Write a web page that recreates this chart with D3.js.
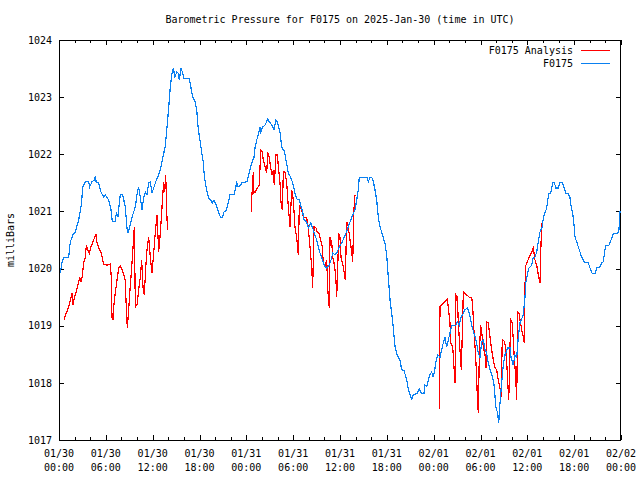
<!DOCTYPE html>
<html>
<head>
<meta charset="utf-8">
<script src="https://cdn.jsdelivr.net/npm/d3@7"></script>
<style>
  html, body { margin: 0; padding: 0; background: #fff; }
  svg { display: block; }
  text { font-family: "DejaVu Sans Mono", "Liberation Mono", monospace; font-size: 10px; fill: #000; }
</style>
</head>
<body>
<svg id="chart" width="640" height="480"></svg>
<script>
// ---------------- DATA ----------------
const chartTitle = "Barometric Pressure for F0175 on 2025-Jan-30 (time in UTC)";
const yAxisLabel = "milliBars";
const seriesNames = ["F0175 Analysis", "F0175"];
const startTimeUTC = Date.UTC(2025, 0, 30, 0, 0);   // 2025-01-30 00:00 UTC
const spanHours = 72;
const yTicks = [1017, 1018, 1019, 1020, 1021, 1022, 1023, 1024];
const majorTickHours = [0, 6, 12, 18, 24, 30, 36, 42, 48, 54, 60, 66, 72];
const minorTickHours = [2, 4, 8, 10, 14, 16, 20, 22, 26, 28, 32, 34, 38, 40, 44, 46, 50, 52, 56, 58, 62, 64, 68, 70];

// F0175 station observations: [hours since 01/30 00:00, mb]
const stationSeries = [
[0.17,1019.92],[0.38,1020.10],[0.60,1020.20],[1.24,1020.20],[1.45,1020.47],[1.79,1020.59],[2.09,1020.64],[2.52,1020.85],
[2.82,1021.08],[3.07,1021.43],[3.37,1021.52],[3.80,1021.52],[3.93,1021.43],[4.23,1021.52],[4.52,1021.55],[4.65,1021.62],
[4.78,1021.50],[5.09,1021.50],[5.38,1021.34],[5.73,1021.25],[5.93,1021.29],[6.15,1021.24],[6.37,1021.20],[6.66,1021.03],
[6.83,1020.82],[7.21,1020.82],[7.34,1020.97],[7.56,1020.90],[7.73,1021.15],[7.85,1021.29],[8.16,1021.29],[8.49,1021.08],
[8.71,1020.71],[8.84,1020.62],[9.06,1020.73],[9.35,1020.90],[9.78,1021.08],[10.08,1021.38],[10.21,1021.41],[10.42,1021.25],
[10.63,1021.03],[10.85,1021.24],[11.06,1021.34],[11.27,1021.29],[11.49,1021.50],[11.70,1021.52],[11.91,1021.32],[12.13,1021.41],
[12.47,1021.55],[12.77,1021.64],[13.07,1021.78],[13.32,1021.95],[13.62,1022.15],[13.84,1022.48],[14.05,1022.81],[14.26,1023.18],
[14.44,1023.39],[14.64,1023.51],[14.86,1023.35],[15.08,1023.44],[15.28,1023.42],[15.41,1023.30],[15.63,1023.51],[15.85,1023.42],
[16.01,1023.32],[16.69,1023.32],[16.91,1023.16],[17.13,1023.00],[17.42,1022.92],[17.64,1022.78],[17.85,1022.43],[18.06,1022.25],
[18.28,1022.04],[18.49,1021.85],[18.61,1021.64],[18.79,1021.46],[19.00,1021.32],[19.22,1021.22],[19.43,1021.20],[19.64,1021.15],
[19.86,1021.20],[20.08,1021.13],[20.28,1021.06],[20.54,1020.94],[20.72,1020.90],[20.97,1020.90],[21.14,1020.99],[21.39,1021.01],
[21.69,1021.15],[21.91,1021.29],[22.42,1021.29],[22.77,1021.50],[22.97,1021.43],[23.28,1021.46],[23.41,1021.50],[24.12,1021.52],
[24.34,1021.67],[24.56,1021.78],[24.82,1021.90],[24.98,1021.94],[25.11,1022.11],[25.33,1022.25],[25.53,1022.34],[25.75,1022.48],
[25.84,1022.39],[26.10,1022.48],[26.39,1022.51],[26.61,1022.57],[26.74,1022.62],[26.94,1022.57],[27.25,1022.51],[27.54,1022.43],
[27.80,1022.60],[28.02,1022.55],[28.31,1022.39],[28.53,1022.13],[28.74,1022.07],[28.86,1022.07],[29.08,1021.90],[29.38,1021.67],
[29.68,1021.60],[29.94,1021.50],[30.23,1021.32],[30.45,1021.22],[30.79,1021.20],[30.97,1021.11],[31.22,1020.99],[31.39,1020.85],
[31.73,1020.82],[31.94,1020.71],[32.25,1020.80],[32.50,1020.71],[32.71,1020.62],[33.01,1020.50],[33.22,1020.38],[33.44,1020.27],
[33.66,1020.20],[33.86,1020.10],[34.08,1020.03],[34.30,1020.01],[34.63,1020.06],[34.85,1020.15],[35.07,1020.27],[35.36,1020.24],
[35.65,1020.29],[35.91,1020.38],[36.22,1020.45],[36.51,1020.54],[36.77,1020.62],[37.06,1020.73],[37.37,1020.85],[37.63,1020.94],
[37.92,1021.03],[38.14,1021.20],[38.34,1021.38],[38.47,1021.60],[39.50,1021.60],[39.63,1021.52],[39.84,1021.59],[40.06,1021.60],
[40.27,1021.52],[40.48,1021.38],[40.70,1021.20],[40.91,1020.90],[41.12,1020.73],[41.34,1020.64],[41.55,1020.54],[41.77,1020.43],
[41.98,1020.24],[42.19,1019.84],[42.41,1019.45],[42.62,1019.22],[42.83,1018.96],[43.05,1018.63],[43.26,1018.51],[43.47,1018.45],
[43.69,1018.40],[43.90,1018.23],[44.20,1018.21],[44.46,1018.10],[44.62,1018.00],[44.75,1017.88],[44.97,1017.79],[45.19,1017.72],
[45.39,1017.79],[45.83,1017.81],[46.16,1017.89],[46.47,1017.81],[46.76,1017.82],[46.89,1017.96],[47.11,1017.93],[47.31,1018.05],
[47.53,1018.14],[47.75,1018.19],[47.95,1018.10],[48.17,1018.26],[48.30,1018.37],[48.52,1018.49],[48.81,1018.45],[49.03,1018.58],
[49.23,1018.70],[49.45,1018.79],[49.67,1018.63],[49.87,1018.75],[50.09,1018.87],[50.31,1019.01],[50.86,1019.01],[51.03,1019.07],
[51.28,1019.01],[51.46,1019.14],[51.72,1019.19],[52.01,1019.28],[52.31,1019.31],[52.56,1019.22],[52.74,1019.10],[52.91,1018.98],
[53.17,1018.87],[53.42,1018.75],[53.59,1018.63],[53.72,1018.52],[53.93,1018.44],[54.15,1018.72],[54.36,1018.75],[54.58,1018.58],
[54.79,1018.52],[55.00,1018.35],[55.31,1018.19],[55.56,1018.10],[55.77,1017.93],[55.95,1017.58],[56.20,1017.47],[56.33,1017.30],
[56.50,1017.65],[56.71,1018.00],[56.92,1018.31],[57.14,1018.49],[57.48,1018.61],[57.78,1018.61],[57.91,1018.45],[58.20,1018.31],
[58.42,1018.49],[58.64,1018.45],[58.84,1018.80],[59.06,1019.05],[59.48,1019.19],[59.70,1019.50],[59.79,1019.75],[59.99,1019.89],
[60.21,1020.01],[60.56,1020.06],[60.76,1020.20],[60.98,1020.20],[61.20,1020.29],[61.41,1020.47],[61.62,1020.64],[61.92,1020.73],
[62.05,1020.89],[62.48,1021.06],[62.61,1021.20],[62.78,1021.31],[62.99,1021.32],[63.25,1021.50],[63.46,1021.50],[63.67,1021.41],
[63.97,1021.41],[64.18,1021.50],[64.48,1021.50],[64.74,1021.41],[64.91,1021.32],[65.25,1021.31],[65.46,1021.24],[65.59,1021.11],
[65.81,1020.97],[65.98,1020.76],[66.11,1020.55],[66.32,1020.47],[66.53,1020.38],[66.75,1020.29],[66.96,1020.20],[67.17,1020.15],
[67.39,1020.10],[67.81,1020.10],[68.03,1020.01],[68.32,1019.91],[68.67,1019.91],[68.89,1020.01],[69.31,1020.03],[69.53,1020.10],
[69.73,1020.12],[69.95,1020.33],[70.04,1020.41],[70.46,1020.41],[70.72,1020.50],[70.89,1020.55],[71.01,1020.61],[71.58,1020.61],
[71.74,1020.68],[71.87,1020.99],[72.00,1020.99]
];

// F0175 Analysis: [hours, mb]; null pressure marks a gap in the record
const analysisSeries = [
[0.68,1019.10],[0.81,1019.19],[1.02,1019.24],[1.24,1019.33],[1.45,1019.45],[1.67,1019.57],[1.79,1019.36],[1.96,1019.49],
[2.09,1019.54],[2.31,1019.66],[2.52,1019.77],[2.65,1019.85],[2.82,1019.77],[2.95,1019.84],[3.16,1020.10],[3.37,1020.20],
[3.50,1020.41],[3.68,1020.33],[3.88,1020.27],[4.10,1020.38],[4.36,1020.47],[4.57,1020.55],[4.74,1020.59],[4.87,1020.45],
[5.09,1020.36],[5.38,1020.29],[5.60,1020.15],[5.73,1020.08],[6.15,1020.06],[6.57,1020.08],[6.70,1019.85],[6.79,1019.14],
[6.92,1019.10],[7.01,1019.33],[7.21,1019.57],[7.43,1019.80],[7.65,1020.01],[7.85,1020.05],[8.07,1019.98],[8.29,1019.89],
[8.49,1019.80],[8.62,1019.31],[8.75,1018.96],[8.93,1019.28],[9.06,1019.57],[9.22,1019.85],[9.48,1020.36],[9.65,1020.73],
[9.78,1019.33],[9.99,1019.36],[10.21,1019.63],[10.42,1019.85],[10.59,1020.15],[10.76,1019.68],[10.93,1019.54],[11.11,1020.01],
[11.27,1020.33],[11.49,1020.55],[11.70,1020.20],[11.91,1019.92],[12.13,1020.27],[12.34,1020.64],[12.56,1020.94],[12.77,1020.29],
[12.98,1020.62],[13.20,1021.08],[13.41,1021.52],[13.54,1021.34],[13.67,1021.64],[13.84,1020.85],[13.96,1020.67],
[20.00,null],
[24.69,1020.99],[24.70,1021.25],[24.82,1021.52],[24.89,1021.69],[24.98,1021.32],[25.15,1021.34],[25.41,1021.41],[25.66,1021.46],
[25.84,1022.07],[26.05,1022.04],[26.17,1021.90],[26.39,1021.78],[26.61,1021.67],[26.74,1022.04],[26.94,1021.95],[27.12,1021.76],
[27.29,1021.64],[27.45,1021.72],[27.58,1021.46],[27.80,1021.99],[27.97,1021.99],[28.15,1021.72],[28.31,1021.50],[28.44,1021.15],
[28.61,1021.03],[28.74,1021.69],[28.95,1021.69],[29.17,1021.50],[29.38,1021.08],[29.59,1020.73],[29.81,1021.38],[30.02,1021.20],
[30.23,1020.73],[30.45,1020.55],[30.66,1020.24],[30.79,1021.11],[31.09,1021.03],[31.30,1020.90],[31.73,1020.89],[31.94,1020.71],
[32.16,1020.38],[32.37,1020.03],[32.50,1019.66],[32.67,1020.73],[32.93,1020.71],[33.09,1020.64],[33.31,1020.62],[33.53,1020.50],
[33.73,1020.38],[33.86,1020.10],[34.08,1020.03],[34.30,1020.15],[34.42,1019.68],[34.55,1019.40],[34.63,1019.31],[34.72,1020.55],
[34.94,1020.45],[35.07,1020.20],[35.23,1020.10],[35.36,1019.98],[35.49,1019.77],[35.58,1019.50],[35.71,1020.03],[35.83,1020.62],
[36.00,1020.54],[36.13,1020.20],[36.29,1020.10],[36.42,1020.03],[36.55,1019.92],[36.68,1019.80],[36.86,1020.82],[37.06,1020.73],
[37.28,1020.50],[37.50,1020.29],[37.63,1020.12],[37.79,1021.03],[37.92,1021.29],
[44.00,null],
[48.72,1017.54],[48.81,1019.33],[49.16,1019.38],[49.45,1019.42],[49.75,1019.47],[49.87,1019.33],[50.09,1019.05],[50.18,1018.70],
[50.44,1018.63],[50.60,1018.28],[50.73,1018.00],[50.86,1019.54],[51.03,1019.50],[51.16,1019.05],[51.37,1018.58],[51.54,1018.23],
[51.67,1018.87],[51.80,1019.59],[52.23,1019.54],[52.65,1019.49],[52.87,1019.50],[53.00,1019.33],[53.17,1018.89],[53.33,1018.58],
[53.51,1018.10],[53.59,1017.75],[53.72,1017.47],[53.85,1018.52],[54.02,1019.01],[54.19,1018.84],[54.36,1018.63],[54.58,1018.49],
[54.71,1018.26],[54.79,1019.07],[55.00,1019.05],[55.22,1018.80],[55.43,1018.58],[55.64,1018.40],[55.86,1018.26],[56.07,1018.23],
[56.28,1018.05],[56.50,1017.91],[56.63,1017.75],[56.79,1018.75],[57.05,1018.73],[57.23,1018.61],[57.36,1018.35],[57.48,1018.05],
[57.61,1017.70],[57.69,1018.05],[57.78,1018.63],[57.87,1019.10],[58.07,1019.05],[58.20,1018.75],[58.33,1018.44],[58.51,1018.09],
[58.64,1017.70],[58.77,1019.24],[58.93,1019.22],[59.06,1019.10],[59.28,1018.93],[59.48,1018.80],[59.61,1018.70],[59.74,1020.03],
[59.99,1020.12],[60.25,1020.20],[60.56,1020.29],[60.76,1020.36],[60.98,1020.15],[61.20,1020.06],[61.41,1019.89],[61.62,1019.75],
[61.71,1020.24],[61.84,1020.80]
];

const colors = { analysis: "#ff0000", station: "#0a80f0" };

// ---------------- CHART ----------------
const svg = d3.select("#chart");
const W = 640, H = 480;
const margin = { left: 59, right: 19, top: 40, bottom: 40 };
const x0 = margin.left, x1 = W - margin.right, y0 = margin.top, y1 = H - margin.bottom;

const hourToDate = h => new Date(startTimeUTC + h * 3600 * 1000);
const x = d3.scaleUtc().domain([hourToDate(0), hourToDate(spanHours)]).range([x0, x1]);
const y = d3.scaleLinear().domain([1017, 1024]).range([y1, y0]);

svg.append("rect").attr("width", W).attr("height", H).attr("fill", "#fff");

const fmtDate = d3.utcFormat("%m/%d"), fmtTime = d3.utcFormat("%H:%M");

function styleAxis(g) {
  g.select(".domain").remove();
  g.selectAll("line").attr("stroke", "#000").attr("shape-rendering", "crispEdges");
  g.selectAll("text").attr("font-family", "DejaVu Sans Mono, monospace").attr("font-size", 10).attr("fill", "#000");
}
const majorDates = majorTickHours.map(hourToDate), minorDates = minorTickHours.map(hourToDate);

svg.append("g").attr("transform", `translate(0,${y1})`)
  .call(d3.axisBottom(x).tickValues(majorDates).tickSize(-5).tickFormat("")).call(styleAxis);
svg.append("g").attr("transform", `translate(0,${y1})`)
  .call(d3.axisBottom(x).tickValues(minorDates).tickSize(-3).tickFormat("")).call(styleAxis);
svg.append("g").attr("transform", `translate(0,${y0})`)
  .call(d3.axisTop(x).tickValues(majorDates).tickSize(-5).tickFormat("")).call(styleAxis);
svg.append("g").attr("transform", `translate(0,${y0})`)
  .call(d3.axisTop(x).tickValues(minorDates).tickSize(-3).tickFormat("")).call(styleAxis);
svg.append("g").attr("transform", `translate(${x0},0)`)
  .call(d3.axisLeft(y).tickValues(yTicks).tickSize(-5).tickPadding(7).tickFormat(d3.format("d"))).call(styleAxis);
svg.append("g").attr("transform", `translate(${x1},0)`)
  .call(d3.axisRight(y).tickValues(yTicks).tickSize(-5).tickFormat("")).call(styleAxis);

const xl = svg.append("g");
majorDates.forEach(d => {
  const t = xl.append("text").attr("text-anchor", "middle").attr("x", x(d));
  t.append("tspan").attr("x", x(d)).attr("y", 457).text(fmtDate(d));
  t.append("tspan").attr("x", x(d)).attr("y", 471).text(fmtTime(d));
});

svg.append("rect").attr("x", x0 + 0.5).attr("y", y0 + 0.5)
  .attr("width", x1 - x0 - 1).attr("height", y1 - y0)
  .attr("fill", "none").attr("stroke", "#000").attr("shape-rendering", "crispEdges");

const line = d3.line().defined(d => d[1] != null).x(d => x(hourToDate(d[0]))).y(d => y(d[1]));
const plot = svg.append("g");
plot.append("path").datum(analysisSeries).attr("d", line)
  .attr("fill", "none").attr("stroke", colors.analysis).attr("stroke-width", 1.2)
  .attr("shape-rendering", "crispEdges");
plot.append("path").datum(stationSeries).attr("d", line)
  .attr("fill", "none").attr("stroke", colors.station).attr("stroke-width", 1.2)
  .attr("shape-rendering", "crispEdges");

svg.append("text").attr("x", (x0 + x1) / 2).attr("y", 23).attr("text-anchor", "middle").text(chartTitle);
svg.append("text").attr("transform", `translate(14,${(y0 + y1) / 2}) rotate(-90)`)
  .attr("text-anchor", "middle").text(yAxisLabel);

const legend = svg.append("g");
[[seriesNames[0], colors.analysis, 50], [seriesNames[1], colors.station, 63]].forEach(([name, c, ly]) => {
  legend.append("text").attr("x", 573).attr("y", ly + 3.5).attr("text-anchor", "end").text(name);
  legend.append("line").attr("x1", 581).attr("x2", 610).attr("y1", ly + 0.5).attr("y2", ly + 0.5)
    .attr("stroke", c).attr("stroke-width", 1).attr("shape-rendering", "crispEdges");
});
</script>
</body>
</html>
